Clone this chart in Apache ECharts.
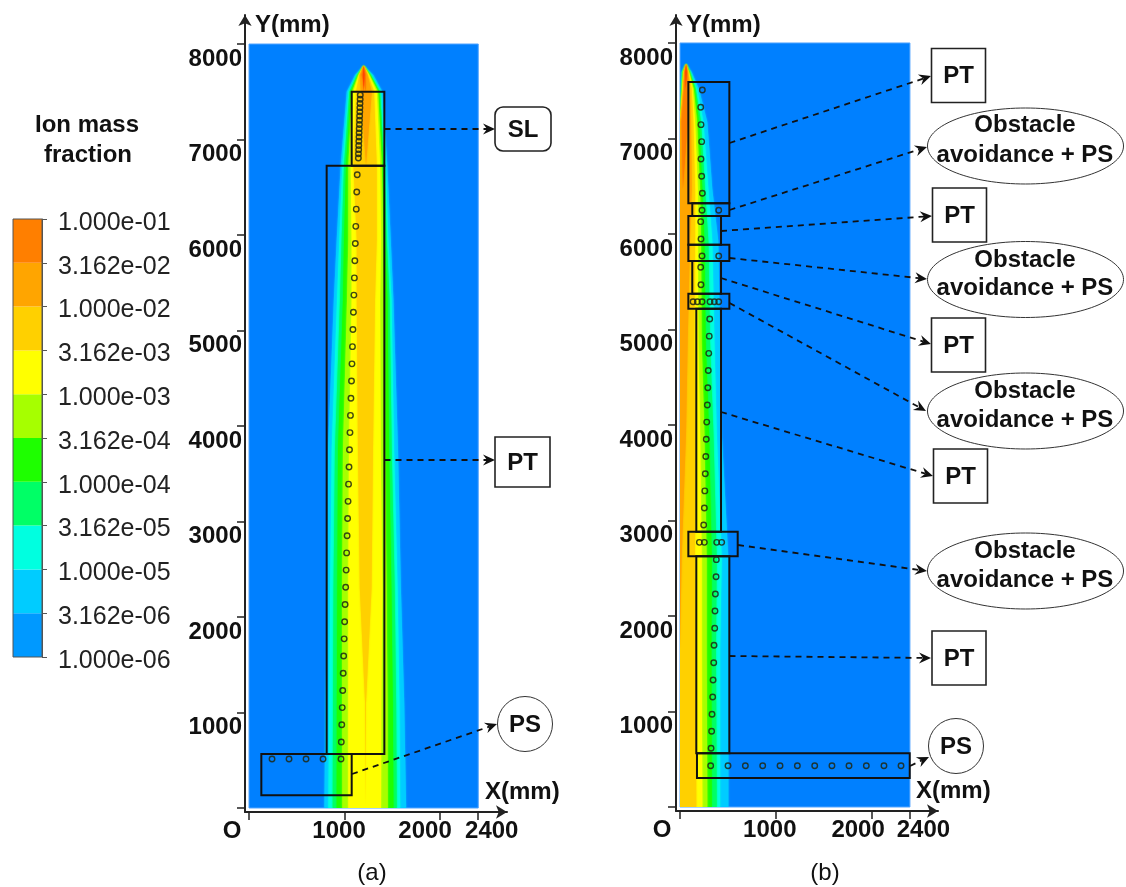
<!DOCTYPE html>
<html><head><meta charset="utf-8">
<style>html,body{margin:0;padding:0;background:#fff}#c{width:1126px;height:887px}</style>
<script src="https://cdn.jsdelivr.net/npm/echarts@6/dist/echarts.min.js"></script>
</head><body><div id="c"></div>
<script>
// ---------- colour key ----------
const keyTicks = ['1.000e-06','3.162e-06','1.000e-05','3.162e-05','1.000e-04','3.162e-04','1.000e-03','3.162e-03','1.000e-02','3.162e-02','1.000e-01'];
const keyColors = ['#0099FF','#00CCFF','#00FFE0','#00FF66','#1EFF00','#A6FF00','#FFFF00','#FFD000','#FFA500','#FF7F00'];
const fieldColor = '#0080FF';
const tipColor = '#FF4400';
// ---------- panel (a): contour edges (mm) at each height ----------
const aY = [0,1100,2300,3750,5320,5950,6730,7500,7675,7773];
const aLbL = [789,800,820,827,888,918,960,1023,1110,1201];
const aLbR = [1645,1625,1590,1560,1512,1484,1448,1397,1302,1201];
const aCyL = [831,840,850,866,922,946,977,1040,1125,1201];
const aCyR = [1582,1575,1555,1518,1492,1459,1431,1382,1285,1201];
const aSpL = [876,880,885,900,953,970,995,1051,1130,1201];
const aSpR = [1547,1540,1525,1494,1472,1442,1417,1372,1275,1201];
const aGrL = [918,920,925,932,984,995,1016,1065,1140,1201];
const aGrR = [1512,1505,1490,1466,1450,1424,1407,1362,1270,1201];
const aYgL = [977,975,975,984,1026,1040,1040,1079,1145,1201];
const aYgR = [1453,1450,1440,1424,1414,1407,1390,1351,1262,1201];
const aYeL = [1040,1040,1040,1047,1075,1075,1065,1093,1150,1201];
const aYeR = [1382,1385,1395,1379,1372,1382,1372,1337,1255,1201];
const aGoL = [1220,1215,1160,1141,1128,1128,1093,1121,1155,1201];
const aGoR = [1220,1225,1283,1298,1319,1337,1337,1309,1245,1201];
const aAmL = [1220,1220,1220,1220,1220,1220,1225,1170,1160,1201];
const aAmR = [1220,1220,1220,1220,1220,1220,1225,1285,1240,1201];
const aOrL = [1225,1225,1225,1225,1225,1225,1225,1225,1178,1201];
const aOrR = [1225,1225,1225,1225,1225,1225,1225,1225,1222,1201];
const aRdL = [1200,1200,1200,1200,1200,1200,1200,1200,1192,1201];
const aRdR = [1200,1200,1200,1200,1200,1200,1200,1200,1210,1201];
// ---------- panel (b): contour edges (mm) at each height ----------
const bY = [0,1650,2600,3930,4870,5920,6470,7173,7518,7696,7780];
const bLbL = [0,0,0,0,0,0,0,0,10,17,63];
const bLbR = [505,505,505,435,418,400,337,285,198,122,63];
const bCyL = [0,0,0,0,0,0,0,0,13,22,63];
const bCyR = [418,418,435,383,359,337,296,244,181,110,63];
const bSpL = [0,0,0,0,0,0,0,0,17,27,63];
const bSpR = [383,375,383,348,313,296,261,219,164,105,63];
const bGrL = [0,0,0,0,0,0,0,0,20,30,63];
const bGrR = [331,327,331,303,268,254,233,198,153,100,63];
const bYgL = [0,0,0,0,0,0,0,0,22,33,63];
const bYgR = [285,278,278,254,226,219,209,178,143,95,63];
const bYeL = [0,0,0,0,0,0,0,0,24,36,63];
const bYeR = [233,226,226,209,191,185,185,157,132,90,63];
const bGoL = [0,0,0,0,0,0,0,0,30,40,63];
const bGoR = [170,163,156,163,150,157,157,139,122,85,63];
const bAmL = [0,0,0,0,0,0,0,5,35,45,63];
const bAmR = [0,0,17,63,80,104,122,115,104,80,63];
const bOrL = [30,30,30,30,30,30,30,17,42,50,63];
const bOrR = [30,30,30,30,30,30,30,80,76,75,63];
const bRdL = [60,60,60,60,60,60,60,60,60,55,63];
const bRdR = [60,60,60,60,60,60,60,60,60,70,63];
// ---------- sensor points [x, y] mm ----------
const aPS = [[241,513],[419,513],[597,513],[775,513],[963,513]];
const aPT = [[966,691],[971,871],[976,1051],[981,1231],[986,1411],[991,1591],[996,1771],[1001,1951],[1006,2131],[1012,2311],[1017,2491],[1022,2671],[1027,2851],[1032,3031],[1037,3211],[1042,3391],[1047,3571],[1052,3751],[1057,3931],[1062,4111],[1067,4291],[1073,4471],[1078,4651],[1083,4831],[1088,5011],[1093,5191],[1098,5371],[1103,5551],[1108,5731],[1113,5911],[1118,6091],[1123,6271],[1128,6451],[1133,6631]];
const aSL = [[1145,6806],[1146,6850],[1148,6894],[1149,6938],[1150,6982],[1152,7026],[1153,7070],[1154,7114],[1156,7158],[1157,7202],[1158,7246],[1160,7290],[1161,7334],[1162,7378],[1164,7422],[1165,7466]];
const bPoints = [[233,7508],[216,7327],[219,7145],[226,6967],[219,6785],[226,6604],[233,6426],[230,6248],[404,6248],[216,6129],[219,5948],[230,5770],[404,5770],[216,5651],[219,5469],[136,5291],[181,5291],[230,5291],[313,5291],[358,5291],[404,5291],[310,5110],[305,4930],[300,4750],[295,4570],[290,4390],[285,4210],[279,4030],[274,3850],[269,3670],[264,3490],[259,3310],[254,3131],[247,2953],[202,2771],[254,2771],[383,2771],[435,2771],[379,2590],[376,2411],[369,2230],[365,2052],[362,1871],[355,1693],[352,1511],[345,1330],[341,1152],[334,971],[330,793],[324,615],[320,432],[501,432],[682,432],[863,432],[1044,432],[1225,432],[1406,432],[1586,432],[1764,432],[1945,432],[2129,432],[2307,432]];
// ---------- controller regions [x0, y0, x1, y1] mm ----------
const aRegions = [[1075,6726,1417,7500],[813,565,1417,6726],[129,133,1075,565]];
const bRegions = [[87,6322,515,7592],[128,6188,515,6322],[87,5888,428,6188],[87,5717,515,5888],[128,5375,428,5717],[87,5218,515,5375],[170,2883,428,5218],[87,2625,602,2883],[170,562,515,2625],[177,304,2398,562]];
// ---------- axis ticks ----------
const yTicks = [0,1000,2000,3000,4000,5000,6000,7000,8000];
const yLabels = [1000,2000,3000,4000,5000,6000,7000,8000];
const xTicks = [0,1000,2000,2400];

const FONT = '"Liberation Sans", Arial, sans-serif';
const bandColors = keyColors.slice(1).concat([tipColor]);
const aBands = [[aLbL,aLbR],[aCyL,aCyR],[aSpL,aSpR],[aGrL,aGrR],[aYgL,aYgR],[aYeL,aYeR],[aGoL,aGoR],[aAmL,aAmR],[aOrL,aOrR],[aRdL,aRdR]];
const bBands = [[bLbL,bLbR],[bCyL,bCyR],[bSpL,bSpR],[bGrL,bGrR],[bYgL,bYgR],[bYeL,bYeR],[bGoL,bGoR],[bAmL,bAmR],[bOrL,bOrR],[bRdL,bRdR]];

function fieldSeries(idx){
  return {type:'custom',xAxisIndex:idx,yAxisIndex:idx,silent:true,data:[[0,0,2400,8000]],encode:{x:[0,2],y:[1,3]},
    renderItem:(p,api)=>{const a=api.coord([api.value(0),api.value(1)]),b=api.coord([api.value(2),api.value(3)]);
      return {type:'rect',shape:{x:a[0],y:b[1],width:b[0]-a[0],height:a[1]-b[1]},style:{fill:fieldColor,stroke:'#4FA3FF',lineWidth:1}};}};
}
function bandSeries(idx,ys,bands){
  return {type:'custom',xAxisIndex:idx,yAxisIndex:idx,silent:true,data:bands.map((b,i)=>[i]),encode:{x:0,y:0},
    renderItem:(p,api)=>{const k=p.dataIndex,[L,R]=bands[k];
      // stations where the band has no width (and neither has a neighbour) are left out
      const w=i=>i>=0&&i<ys.length&&R[i]>L[i];
      const use=ys.map((y,i)=>i).filter(i=>w(i)||w(i-1)||w(i+1));
      const pts=use.map(i=>api.coord([L[i],ys[i]])).concat(use.slice().reverse().map(i=>api.coord([R[i],ys[i]])));
      const a=api.coord([0,0]),b=api.coord([2400,8000]);
      return {type:'polygon',shape:{points:pts},
        clipPath:{type:'rect',shape:{x:a[0],y:b[1],width:b[0]-a[0],height:a[1]-b[1]}},
        style:{fill:bandColors[k],shadowBlur:2,shadowColor:bandColors[k]}};}};
}
function regionSeries(idx,rects){
  return {type:'custom',xAxisIndex:idx,yAxisIndex:idx,silent:true,data:rects,encode:{x:[0,2],y:[1,3]},
    renderItem:(p,api)=>{const a=api.coord([api.value(0),api.value(1)]),b=api.coord([api.value(2),api.value(3)]);
      return {type:'rect',shape:{x:a[0],y:b[1],width:b[0]-a[0],height:a[1]-b[1]},style:{fill:'none',stroke:'#111',lineWidth:2}};}};
}
function dots(idx,pts){
  return {type:'scatter',xAxisIndex:idx,yAxisIndex:idx,silent:true,data:pts,symbol:'circle',symbolSize:5.5,
    itemStyle:{color:'rgba(0,0,0,0)',borderColor:'rgba(30,40,20,0.85)',borderWidth:1.4,opacity:1}};
}
function xAxisOf(idx,min,max,pad){
  const rich={};Object.keys(pad).forEach(k=>rich['v'+k]={fontFamily:FONT,fontWeight:'bold',fontSize:24,color:'#111',padding:pad[k]});
  return {type:'value',gridIndex:idx,min,max,splitLine:{show:false},position:'bottom',
    axisLine:{onZero:false,lineStyle:{color:'#222',width:2},symbol:['none','arrow'],symbolSize:[10,11]},
    axisTick:{customValues:xTicks,length:8,lineStyle:{color:'#222',width:1.5}},
    axisLabel:{customValues:xTicks,margin:7,showMinLabel:true,showMaxLabel:true,hideOverlap:false,
      formatter:v=>'{v'+v+'|'+(v===0?'O':String(v))+'}',rich}};
}
function yAxisOf(idx,min,max){
  return {type:'value',gridIndex:idx,min,max,splitLine:{show:false},position:'left',
    axisLine:{onZero:false,lineStyle:{color:'#222',width:2},symbol:['none','arrow'],symbolSize:[10,11]},
    axisTick:{customValues:yTicks,length:8,lineStyle:{color:'#222',width:1.5}},
    axisLabel:{customValues:yLabels,margin:3,verticalAlign:'top',hideOverlap:false,formatter:v=>'{n|'+v+'}',
      rich:{n:{color:'#111',fontFamily:FONT,fontWeight:'bold',fontSize:24,padding:[3,0,0,0]}}}};
}
const option = {
  animation:false,backgroundColor:'#fff',
  grid:[
    {left:245,top:15,width:262,height:797},
    {left:676,top:15,width:262,height:796},
    {left:13,top:219,width:29,height:438}
  ],
  xAxis:[
    xAxisOf(0,-42,2701,{0:[0,34,0,0],1000:[0,11,0,0],2000:[0,30,0,0],2400:[0,0,0,27]}),
    xAxisOf(1,-42,2693,{0:[0,36,0,0],1000:[0,12,0,0],2000:[0,27,0,0],2400:[0,0,0,27]}),
    {type:'value',gridIndex:2,min:0,max:1,show:false}
  ],
  yAxis:[
    yAxisOf(0,-42,8304),
    yAxisOf(1,-42,8293),
    {type:'value',gridIndex:2,min:-6,max:-1,interval:0.5,position:'right',splitLine:{show:false},
     axisLine:{show:true,onZero:false,lineStyle:{color:'#555',width:1}},
     axisTick:{show:true,length:5,lineStyle:{color:'#555'}},
     axisLabel:{margin:16,formatter:v=>'{t|'+keyTicks[Math.round((v+6)*2)]+'}',
       rich:{t:{color:'#222',fontFamily:FONT,fontSize:25,padding:[8,0,0,0]}}}}
  ],
  series:[
    fieldSeries(0),bandSeries(0,aY,aBands),
    fieldSeries(1),bandSeries(1,bY,bBands),
    dots(0,aPS),dots(0,aPT),dots(0,aSL),dots(1,bPoints),
    regionSeries(0,aRegions),regionSeries(1,bRegions),
    {type:'custom',xAxisIndex:2,yAxisIndex:2,silent:true,data:keyColors.map((c,i)=>[i]),encode:{x:0,y:0},
     renderItem:(p,api)=>{const i=p.dataIndex,lo=-6+i*0.5,a=api.coord([0,lo]),b=api.coord([1,lo+0.5]);
       return {type:'rect',shape:{x:a[0],y:b[1],width:b[0]-a[0],height:a[1]-b[1]},style:{fill:keyColors[i]}};}},
    {type:'custom',xAxisIndex:2,yAxisIndex:2,silent:true,data:[[0,-6,1,-1]],encode:{x:[0,2],y:[1,3]},
     renderItem:(p,api)=>{const a=api.coord([api.value(0),api.value(1)]),b=api.coord([api.value(2),api.value(3)]);
       return {type:'rect',shape:{x:a[0],y:b[1],width:b[0]-a[0],height:a[1]-b[1]},style:{fill:'none',stroke:'#555',lineWidth:1}};}}
  ],
  graphic:{elements:buildGraphics()}
};
function T(x,y,text,bold,align){return {type:'text',z:100,silent:true,style:{x,y,text,fill:'#111',font:(bold?'bold ':'')+'24px '+FONT,align:align||'center',verticalAlign:'middle'}};}
function arrow(x1,y1,x2,y2){
  const d=Math.hypot(x2-x1,y2-y1),ux=(x2-x1)/d,uy=(y2-y1)/d,nx=-uy,ny=ux;
  const bx=x2-ux*12,by=y2-uy*12,mx=x2-ux*8,my=y2-uy*8;
  return [{type:'line',z:90,silent:true,shape:{x1,y1,x2:mx,y2:my},style:{stroke:'#111',lineWidth:1.8,lineDash:[6,5],fill:'none'}},
    {type:'polygon',z:91,silent:true,shape:{points:[[x2,y2],[bx+nx*5.5,by+ny*5.5],[mx,my],[bx-nx*5.5,by-ny*5.5]]},style:{fill:'#111'}}];
}
function box(x,y,w,h,t,r){return [{type:'rect',z:95,silent:true,shape:{x,y,width:w,height:h,r:r||0},style:{fill:'#fff',stroke:'#222',lineWidth:1.6}},T(x+w/2,y+h/2+1,t,true)];}
function circ(cx,cy,t){return [{type:'circle',z:95,silent:true,shape:{cx,cy,r:27.5},style:{fill:'#fff',stroke:'#333',lineWidth:1}},T(cx,cy+1,t,true)];}
function ell(cy,t1,t2){return [{type:'ellipse',z:95,silent:true,shape:{cx:1025.5,cy,rx:98,ry:38},style:{fill:'#fff',stroke:'#333',lineWidth:1}},T(1025,t1,'Obstacle',true),T(1025,t2,'avoidance + PS',true)];}
function buildGraphics(){
  return [].concat(
    T(87,125,'Ion mass',true),T(88,155,'fraction',true),
    T(255,25,'Y(mm)',true,'left'),T(686,25,'Y(mm)',true,'left'),
    T(485,792,'X(mm)',true,'left'),T(916,791,'X(mm)',true,'left'),
    T(372,873,'(a)',false),T(825,873,'(b)',false),
    arrow(384.5,129,495,129),box(495,107,56,44,'SL',8),
    arrow(384.5,460,495,460),box(495,437,55,50,'PT'),
    arrow(352,774,497,724),circ(525,724,'PS'),
    arrow(729.5,143,931,76),box(931.5,48.5,54,54,'PT'),
    arrow(729.5,210,927,147),ell(146,125,155),
    arrow(721,231,932,216),box(932.5,188,54,54,'PT'),
    arrow(729.5,258,927,279),ell(279.5,260,288),
    arrow(721,278,931,344),box(931.5,318,54,54,'PT'),
    arrow(729.5,303,926,411),ell(411,391,420),
    arrow(721,412,933,476),box(933.5,449,54,54,'PT'),
    arrow(738,545,927,571),ell(571,551,580),
    arrow(729.5,656,931,658),box(932,631,54,54,'PT'),
    arrow(910,766,929,757),circ(956,746,'PS')
  );
}
const chart = echarts.init(document.getElementById('c'),null,{renderer:'canvas',width:1126,height:887});
chart.setOption(option);
</script></body></html>
